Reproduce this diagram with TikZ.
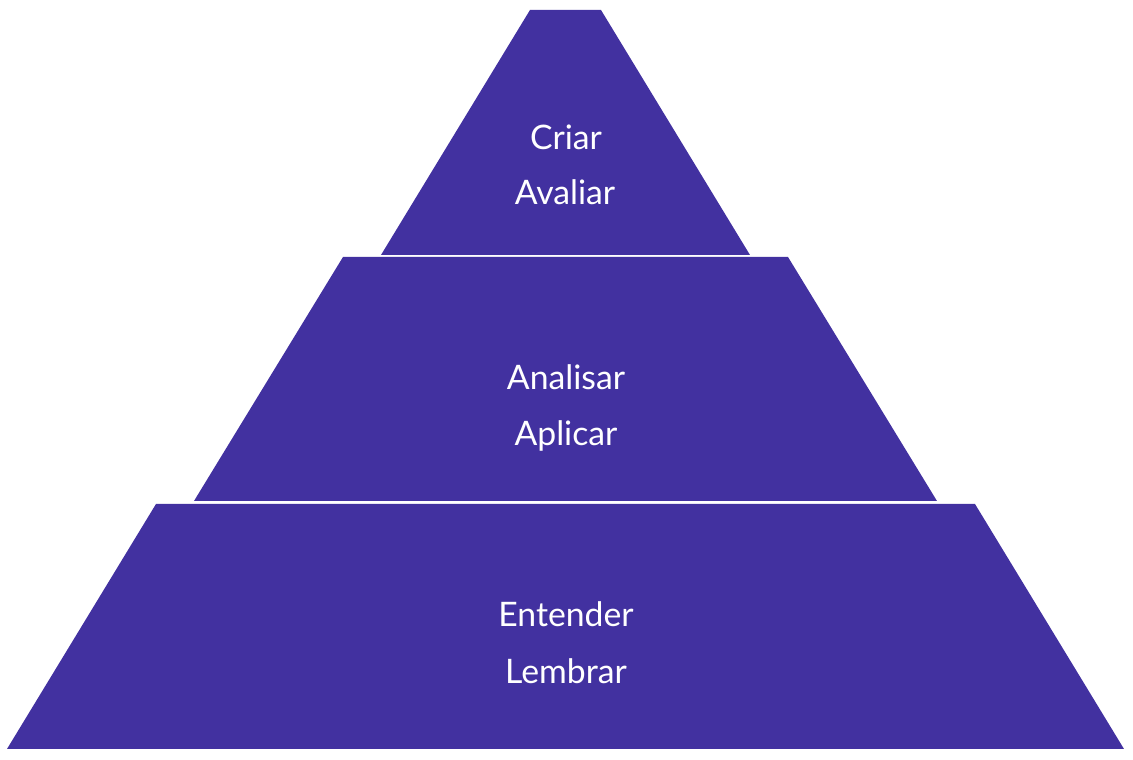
\documentclass[tikz,border=0pt]{standalone}
\usepackage{fontspec}
\setmainfont{Lato}
\usepackage{tikz}
\usetikzlibrary{positioning}

\definecolor{pyrviolet}{RGB}{66,49,160}

\tikzset{
  tier/.style={fill=pyrviolet},
  level/.style={text=white, anchor=base, font=\fontsize{9.6}{11}\selectfont}
}

\begin{document}
\begin{tikzpicture}
  \useasboundingbox (0,0) rectangle (11.33,7.60);

  % Niveaux
  \fill[tier] (5.30,7.50) -- (6.01,7.50) -- (7.50,5.05) -- (3.81,5.05) -- cycle;
  \fill[tier] (3.43,5.03) -- (7.88,5.03) -- (9.37,2.59) -- (1.94,2.59) -- cycle;
  \fill[tier] (1.56,2.56) -- (9.75,2.56) -- (11.24,0.11) -- (0.07,0.11) -- cycle;

  % Sommet
  \node[level] (criar) at (5.66,6.10) {Criar};
  \node[level] (avaliar) at (5.65,5.55) {Avaliar};

  % Milieu
  \node[level] (analisar) at (5.66,3.70) {Analisar};
  \node[level] (aplicar) at (5.66,3.14) {Aplicar};

  % Base
  \node[level] (entender) at (5.66,1.33) {Entender};
  \node[level] (lembrar) at (5.66,0.76) {Lembrar};
\end{tikzpicture}
\end{document}
